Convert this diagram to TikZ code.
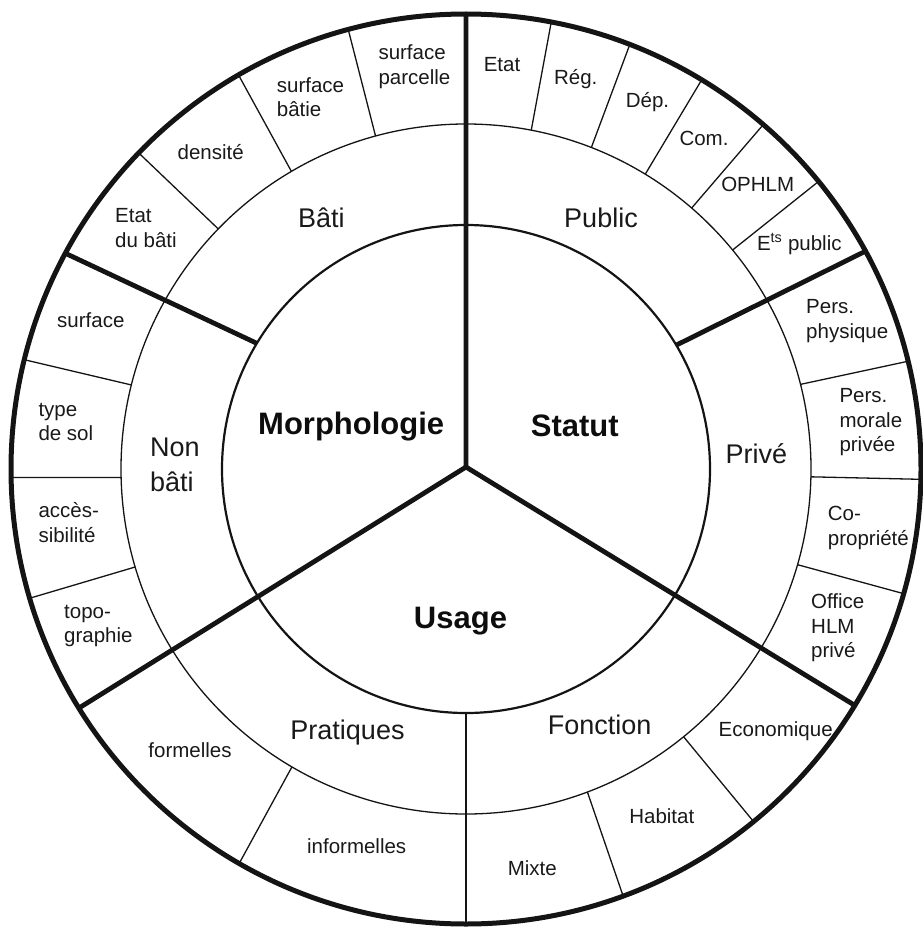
\documentclass[tikz,border=0pt]{standalone}
\usepackage{fontspec}
\setmainfont{Liberation Sans}
\begin{document}
\begin{tikzpicture}[x=1pt,y=1pt,
  ink/.style={draw=black!92},
  rim/.style={ink, line width=5pt},
  ringin/.style={ink, line width=2.2pt},
  ringmid/.style={ink, line width=1.3pt},
  divthick/.style={ink, line width=4.8pt},
  divmid/.style={ink, line width=2.4pt},
  divthin/.style={ink, line width=1.3pt},
  lbsmall/.style={inner sep=0pt, text=black!90, font=\fontsize{20.5}{24.5}\selectfont, align=left},
  lbmid/.style={inner sep=0pt, text=black!90, font=\fontsize{27}{35}\selectfont, align=left},
  lbbig/.style={inner sep=0pt, text=black!95, font=\fontsize{31}{37}\selectfont\bfseries},
]
\useasboundingbox (0,0) rectangle (922,-928);
\coordinate (C) at (466,-469);

\begin{scope}[shift={(C)}]
  % three rings
  \draw[rim] (0,0) circle [radius=455];
  \draw[ringmid] (0,0) circle [radius=345];
  \draw[ringin] (0,0) circle [radius=244];

  % thin separators of the outer ring (angle on middle ring / angle on rim)
  \foreach \a/\b in {105.2/105.0, 120.4/120.0, 135.9/136.0,
                     165.9/166.1, 181.4/181.07, 196.5/196.5,
                     239.7/240.1, 290.6/290.2, 309.1/309.2,
                     343.9/344.1, 358.7/358.7, 14.2/13.7,
                     39.4/39.2, 49.15/49.2, 58.7/58.8, 68.7/68.9, 79.1/79.2}
    \draw[divthin] (\a:345) -- (\b:455);

  % Pratiques / Fonction
  \draw[divmid] (270:244) -- (270:455);

  % main three sectors
  \coordinate (V) at (0,2);
  \coordinate (Vt) at (90:455);
  \coordinate (Vl) at (211.7:455);
  \coordinate (Vr) at (328.7:455);
  \draw[divthick, line join=miter] (Vt) -- (V) -- (Vl);
  \draw[divthick] (V) -- (Vr);

  % Bati / Non bati and Public / Prive
  \coordinate (Bi) at (149:244);
  \coordinate (Bo) at (151.7:455);
  \coordinate (Pi) at (30.5:244);
  \coordinate (Po) at (28.6:455);
  \draw[divthick] (Bi) -- (Bo);
  \draw[divthick] (Pi) -- (Po);
\end{scope}

% core
\node[lbbig] (morpho) at (351.2,-427) {Morphologie};
\node[lbbig] (statut) at (574.8,-425.4) {Statut};
\node[lbbig] (usage) at (460.5,-621) {Usage};

% middle ring
\node[lbmid] (bati) at (321.3,-218) {Bâti};
\node[lbmid, anchor=west] (nonbati) at (150,-464.5) {Non\\bâti};
\node[lbmid] (public) at (601,-218) {Public};
\node[lbmid] (prive) at (756.3,-454) {Privé};
\node[lbmid] (pratiques) at (347.5,-733) {Pratiques};
\node[lbmid] (fonction) at (599.7,-725) {Fonction};

% outer ring: Morphologie
\node[lbsmall, anchor=west] (sparc) at (378.3,-66.5) {surface\\parcelle};
\node[lbsmall, anchor=west] (sbat) at (276.7,-97) {surface\\bâtie};
\node[lbsmall] (dens) at (210.7,-152.5) {densité};
\node[lbsmall, anchor=west] (etatbati) at (115,-228) {Etat\\du bâti};
\node[lbsmall] (surf) at (90.8,-320) {surface};
\node[lbsmall, anchor=west] (typesol) at (38.3,-422) {type\\de sol};
\node[lbsmall, anchor=west] (access) at (38.3,-522.5) {accès-\\sibilité};
\node[lbsmall, anchor=west] (topo) at (64,-626) {topo-\\graphie};

% outer ring: Usage
\node[lbsmall] (formelles) at (190,-750) {formelles};
\node[lbsmall] (informelles) at (356.7,-846.5) {informelles};
\node[lbsmall] (mixte) at (532.3,-868) {Mixte};
\node[lbsmall] (habitat) at (661.8,-815.7) {Habitat};
\node[lbsmall] (econ) at (775.7,-731) {Economique};

% outer ring: Statut
\node[lbsmall, anchor=west] (office) at (811,-628) {Office\\HLM\\privé};
\node[lbsmall, anchor=west] (copro) at (827.7,-528) {Co-\\propriété};
\node[lbsmall, anchor=west] (morale) at (839.3,-422.5) {Pers.\\morale\\privée};
\node[lbsmall, anchor=west] (physique) at (806,-321) {Pers.\\physique};
\node[lbsmall] (etspub) at (799.3,-244) {E\textsuperscript{ts} public};
\node[lbsmall] (ophlm) at (757.7,-184.5) {OPHLM};
\node[lbsmall] (com) at (704,-138.3) {Com.};
\node[lbsmall] (dep) at (647.5,-102) {Dép.};
\node[lbsmall] (reg) at (575.7,-79) {Rég.};
\node[lbsmall] (etat) at (502,-65) {Etat};
\end{tikzpicture}
\end{document}
